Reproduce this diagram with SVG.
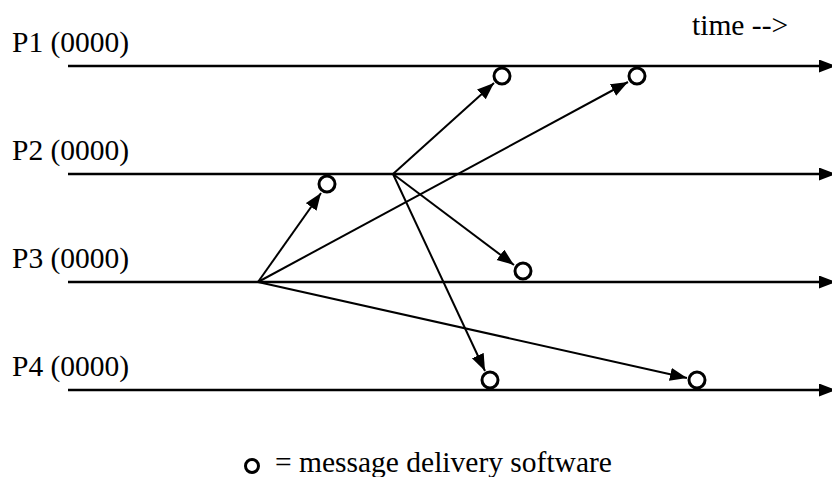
<svg xmlns="http://www.w3.org/2000/svg" width="832" height="477" viewBox="0 0 832 477">
<defs>
<marker id="ah" markerUnits="userSpaceOnUse" markerWidth="18" markerHeight="14" refX="17" refY="6.5" orient="auto">
<path d="M0,0 L17,6.5 L0,13 z" fill="#000"/>
</marker>
<style>
text{font-family:"Liberation Serif","Times New Roman",serif;font-size:29.5px;fill:#000}
.tl{stroke:#000;stroke-width:2.5;fill:none}
.msg{stroke:#000;stroke-width:2;fill:none}
.dv{stroke:#000;stroke-width:3;fill:#fff}
</style>
</defs>
<rect width="832" height="477" fill="#fff"/>
<g id="P1"><text x="12" y="52">P1 (0000)</text><line class="tl" x1="68" y1="66" x2="836" y2="66" marker-end="url(#ah)"/></g>
<g id="P2"><text x="12" y="160">P2 (0000)</text><line class="tl" x1="68" y1="174" x2="836" y2="174" marker-end="url(#ah)"/></g>
<g id="P3"><text x="12" y="268">P3 (0000)</text><line class="tl" x1="68" y1="282" x2="836" y2="282" marker-end="url(#ah)"/></g>
<g id="P4"><text x="12" y="376">P4 (0000)</text><line class="tl" x1="68" y1="390" x2="836" y2="390" marker-end="url(#ah)"/></g>
<g id="time"><text x="692" y="35">time --&gt;</text></g>
<g id="connectors">
<line class="msg" x1="258" y1="282" x2="321" y2="193" marker-end="url(#ah)"/>
<line class="msg" x1="258" y1="282" x2="628" y2="82" marker-end="url(#ah)"/>
<line class="msg" x1="258" y1="282" x2="687" y2="378" marker-end="url(#ah)"/>
<line class="msg" x1="393" y1="174" x2="494" y2="83" marker-end="url(#ah)"/>
<line class="msg" x1="393" y1="174" x2="514" y2="265" marker-end="url(#ah)"/>
<line class="msg" x1="393" y1="174" x2="485" y2="371" marker-end="url(#ah)"/>
</g>
<g id="deliveries">
<circle class="dv" cx="502" cy="76" r="8"/>
<circle class="dv" cx="637" cy="76" r="8"/>
<circle class="dv" cx="327" cy="184" r="8"/>
<circle class="dv" cx="523" cy="271" r="8"/>
<circle class="dv" cx="490" cy="380" r="8"/>
<circle class="dv" cx="697" cy="380" r="8"/>
</g>
<g id="legend">
<circle class="dv" cx="252" cy="466" r="6.5" stroke-width="2.5"/>
<text x="275" y="472">= message delivery software</text>
</g>
</svg>
